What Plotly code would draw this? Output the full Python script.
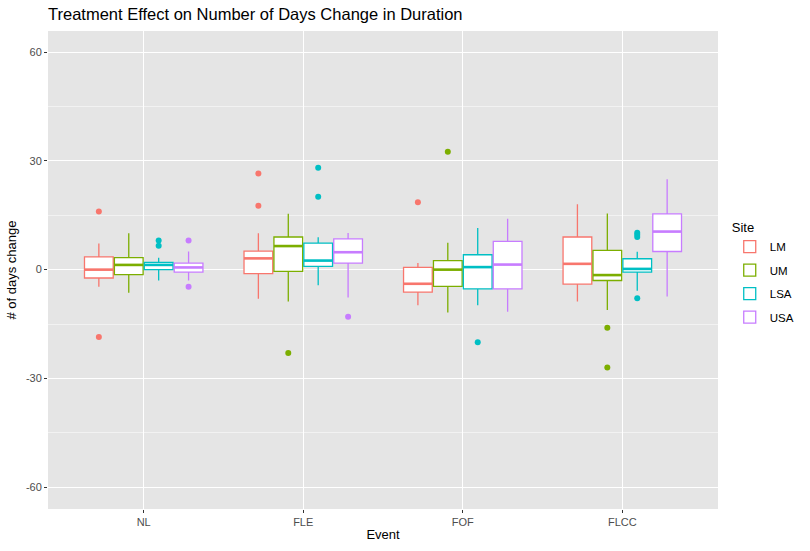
import plotly.graph_objects as go

events = ["NL", "FLE", "FOF", "FLCC"]
sites = ["LM", "UM", "LSA", "USA"]
colors = ["#F8766D", "#7CAE00", "#00BFC4", "#C77CFF"]
y_ticks = [-60, -30, 0, 30, 60]
y_labels = ["-60", "-30", "0", "30", "60"]

# box stats per site, one value per event (NL, FLE, FOF, FLCC)
lower = {
    "LM": [-4.7, -8.0, -9.8, -8.8],
    "UM": [-6.4, -8.8, -11.8, -11.1],
    "LSA": [-3.0, -4.3, -9.8, -5.8],
    "USA": [-3.0, -7.7, -11.6, -7.4],
}
q1 = {
    "LM": [-2.3, -1.1, -6.2, -4.0],
    "UM": [-1.4, -0.5, -4.6, -3.0],
    "LSA": [0.0, 0.9, -5.3, -0.7],
    "USA": [-0.7, 1.8, -5.3, 5.0],
}
median = {
    "LM": [0.0, 3.1, -3.9, 1.6],
    "UM": [1.3, 6.5, 0.0, -1.5],
    "LSA": [1.3, 2.5, 0.7, 0.2],
    "USA": [0.6, 4.8, 1.4, 10.5],
}
q3 = {
    "LM": [3.5, 5.1, 0.6, 9.0],
    "UM": [3.3, 9.0, 2.5, 5.3],
    "LSA": [2.0, 7.3, 4.1, 3.0],
    "USA": [1.8, 8.5, 7.8, 15.4],
}
upper = {
    "LM": [7.2, 10.0, 1.8, 18.0],
    "UM": [10.0, 15.4, 7.4, 15.5],
    "LSA": [3.3, 8.9, 11.5, 4.9],
    "USA": [5.0, 10.1, 14.0, 24.9],
}

# outliers: (event, value)
outliers = {
    "LM": [("NL", 16.0), ("NL", -18.6), ("FLE", 26.5), ("FLE", 17.6), ("FOF", 18.6)],
    "UM": [("FLE", -23.0), ("FOF", 32.5), ("FLCC", -16.0), ("FLCC", -27.0)],
    "LSA": [("NL", 8.0), ("NL", 6.6), ("FLE", 28.1), ("FLE", 20.1), ("FOF", -20.0),
            ("FLCC", 10.2), ("FLCC", 9.6), ("FLCC", 9.0), ("FLCC", -7.9)],
    "USA": [("NL", 8.0), ("NL", -4.7), ("FLE", -13.0)],
}

dodge = 0.75 / len(sites)
bw = 0.18

fig = go.Figure()
for j, s in enumerate(sites):
    off = (j - (len(sites) - 1) / 2) * dodge
    xs = [i + 1 + off for i in range(len(events))]
    fig.add_trace(go.Box(
        x=xs, q1=q1[s], median=median[s], q3=q3[s],
        lowerfence=lower[s], upperfence=upper[s],
        width=bw, whiskerwidth=0, name=s, legendgroup=s,
        line=dict(color=colors[j], width=1.3), fillcolor="white",
        boxpoints=False, hoverinfo="skip",
    ))
    # thicker median line like ggplot
    mx, my = [], []
    for x, m in zip(xs, median[s]):
        mx += [x - bw / 2, x + bw / 2, None]
        my += [m, m, None]
    fig.add_trace(go.Scatter(x=mx, y=my, mode="lines", line=dict(color=colors[j], width=2.6),
                             legendgroup=s, showlegend=False, hoverinfo="skip"))
    ox = [events.index(e) + 1 + off for e, v in outliers[s]]
    oy = [v for e, v in outliers[s]]
    fig.add_trace(go.Scatter(x=ox, y=oy, mode="markers", marker=dict(color=colors[j], size=6),
                             legendgroup=s, showlegend=False, hoverinfo="skip"))

axis_common = dict(
    showgrid=True, gridcolor="white", gridwidth=1.3, zeroline=False,
    ticks="outside", ticklen=3, tickcolor="#333333", showline=False,
    tickfont=dict(size=11, color="#4D4D4D"), automargin=False,
)

fig.update_layout(
    width=810, height=551,
    margin=dict(l=48, r=91, t=31, b=42),
    paper_bgcolor="white", plot_bgcolor="#E5E5E5",
    font=dict(family="Liberation Sans, Arial, sans-serif", color="black"),
    title=dict(text="Treatment Effect on Number of Days Change in Duration",
               x=48 / 810, xanchor="left", y=1 - 14 / 551, yanchor="middle",
               font=dict(size=16.5, color="black"), automargin=False),
    showlegend=True,
    legend=dict(title=dict(text="Site", font=dict(size=13)), font=dict(size=11.5),
                traceorder="grouped", tracegroupgap=4.5,
                x=1.016, xanchor="left", y=0.492, yanchor="middle",
                bgcolor="rgba(0,0,0,0)"),
    xaxis=dict(axis_common, range=[0.4, 4.6], tickvals=[1, 2, 3, 4], ticktext=events,
               title=dict(text="Event", font=dict(size=13), standoff=2)),
    yaxis=dict(axis_common, range=[-66.0, 65.8], tickvals=y_ticks, ticktext=y_labels,
               minor=dict(tickvals=[-45, -15, 15, 45], showgrid=True, gridcolor="#F2F2F2", gridwidth=0.6, ticks=""),
               title=dict(text="# of days change", font=dict(size=13), standoff=6)),
)

# drop the default body margin so the figure fills the window
fig.write_html("out.html", config={"displayModeBar": False},
               post_script="document.body.style.margin='0';")
